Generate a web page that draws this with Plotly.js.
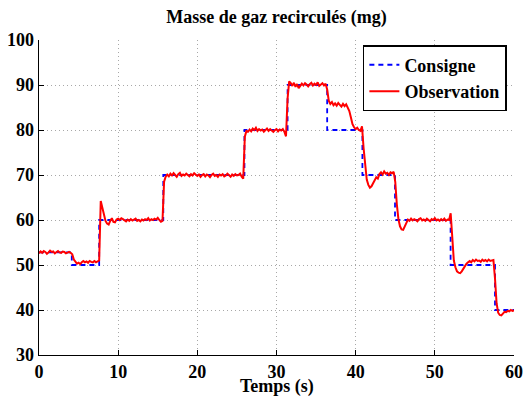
<!DOCTYPE html>
<html>
<head>
<meta charset="utf-8">
<script src="https://cdn.plot.ly/plotly-3.0.1.min.js"></script>
<style>html,body{margin:0;padding:0;background:#fff;}#chart{width:526px;height:397px;}</style>
</head>
<body>
<div id="chart"></div>
<script>
// Setpoint (Consigne): step change times (s) and levels (mg)
const consigneTime = [0, 4.14, 7.6, 15.7, 25.95, 31.4, 36.4, 40.85, 44.97, 51.99, 57.6, 60];
const consigneValue = [52.8, 50, 60, 70, 80, 90, 80, 70, 60, 50, 40, 40];

// Observation: sampled every 0.2 s from t = 0 to 60 s
const obsStep = 0.2;
const observationValue = [
  52.6, 53.0, 52.7, 53.1, 52.9,
  52.5, 52.8, 53.2, 52.9, 53.0,
  52.6, 52.9, 53.1, 52.8, 52.7,
  53.0, 52.9, 52.6, 52.8, 52.9,
  52.7, 52.4, 51.2, 50.6, 50.3,
  50.5, 50.2, 50.6, 50.9, 50.6,
  50.8, 50.5, 50.9, 50.7, 50.6,
  50.9, 50.6, 50.8, 51.0, 64.2,
  62.5, 61.0, 59.8, 59.2, 59.0,
  59.8, 60.4, 59.6, 59.5, 60.1,
  60.3, 60.0, 60.4, 60.2, 59.9,
  59.7, 60.1, 59.8, 60.2, 59.9,
  60.1, 60.3, 59.8, 60.0, 59.7,
  60.1, 59.9, 60.2, 60.0, 60.4,
  59.9, 60.2, 60.0, 60.3, 60.1,
  60.5, 60.0, 59.6, 59.8, 68.5,
  69.6, 70.1, 69.7, 70.3, 69.9,
  70.4, 70.0, 69.6, 70.2, 70.5,
  69.8, 70.1, 69.9, 70.3, 70.0,
  69.7, 70.2, 69.9, 70.4, 70.0,
  69.8, 70.1, 69.6, 70.0, 70.2,
  69.7, 70.1, 69.9, 69.5, 70.0,
  70.3, 69.8, 70.0, 69.6, 70.1,
  69.9, 70.2, 69.7, 69.9, 70.3,
  70.0, 69.6, 70.1, 69.8, 70.2,
  69.9, 70.0, 70.3, 69.6, 69.2,
  78.5, 79.8, 79.6, 80.1, 79.7,
  80.3, 80.0, 80.5, 79.8, 80.2,
  79.9, 80.1, 79.6, 80.0, 80.3,
  79.8, 80.2, 79.9, 79.6, 80.0,
  80.2, 79.7, 80.1, 79.9, 80.2,
  79.6, 78.6, 87.0, 90.8, 90.4,
  89.8, 90.5, 89.6, 90.2, 89.3,
  89.8, 90.3, 89.9, 90.4, 90.1,
  89.7, 90.2, 90.5, 89.9, 90.3,
  90.0, 90.6, 89.8, 90.2, 90.4,
  89.9, 90.3, 89.0, 86.5, 85.8,
  86.2, 85.5, 85.9, 85.4, 86.0,
  85.6, 85.2, 85.8, 85.3, 85.7,
  85.0, 84.2, 82.8, 81.3, 80.6,
  80.2, 80.5, 80.0, 79.8, 80.8,
  76.0, 71.5, 69.0, 67.8, 67.2,
  67.5, 68.3, 68.8, 69.5, 69.2,
  70.2, 70.6, 70.1, 70.8, 70.3,
  70.5, 70.0, 70.6, 70.4, 70.7,
  68.5, 63.5, 60.2, 58.6, 57.9,
  57.8, 58.6, 59.5, 60.1, 59.8,
  60.3, 59.9, 60.2, 60.0, 59.7,
  60.2, 60.4, 59.9, 60.1, 59.8,
  60.3, 60.0, 59.7, 60.2, 60.0,
  60.4, 59.9, 60.1, 59.8, 60.2,
  59.9, 60.3, 59.8, 60.1, 60.0,
  61.5, 55.5, 51.0, 49.5, 48.6,
  48.3, 48.2, 48.6, 49.2, 49.8,
  50.3, 50.6, 50.9, 50.6, 51.1,
  50.8, 51.2, 50.9, 51.0, 50.7,
  51.2, 50.9, 51.1, 50.8, 51.2,
  50.9, 51.0, 51.1, 47.0, 41.5,
  39.4, 38.9, 38.8, 39.2, 39.6,
  39.5, 39.8, 39.7, 40.0, 39.8,
  39.9
];
const observationTime = observationValue.map((_, i) => +(i * obsStep).toFixed(1));

const xTicks = [0, 10, 20, 30, 40, 50, 60];
const yTicks = [30, 40, 50, 60, 70, 80, 90, 100];

const serif = '"Liberation Serif", serif';
const font = {family: serif, color: '#000'};
const boldFont = {family: serif, color: '#000', size: 18, weight: 'bold'};

const traces = [
  {
    x: consigneTime, y: consigneValue, name: 'Consigne', type: 'scatter', mode: 'lines',
    line: {shape: 'hv', color: '#0000ff', width: 1.8, dash: '5px,4px'}
  },
  {
    x: observationTime, y: observationValue, name: 'Observation', type: 'scatter', mode: 'lines',
    line: {color: '#ff0000', width: 2}
  }
];

const axisCommon = {
  showline: true, linecolor: '#000', linewidth: 1.3,
  ticks: 'inside', ticklen: 5, tickcolor: '#000', tickwidth: 1,
  showgrid: true, gridcolor: '#a8a8a8', griddash: '1px,3px', gridwidth: 1,
  zeroline: false,
  tickfont: boldFont
};

const layout = {
  width: 526, height: 397,
  margin: {l: 39, r: 12, t: 40, b: 42},
  paper_bgcolor: '#fff', plot_bgcolor: '#fff',
  font: font,
  title: {text: 'Masse de gaz recirculés (mg)', font: boldFont, xref: 'paper', x: 0.5, xanchor: 'center', y: 0.957, yanchor: 'middle'},
  xaxis: Object.assign({}, axisCommon, {
    range: [0, 60], tickvals: xTicks, ticktext: xTicks.map(String),
    ticklabelstandoff: 0
  }),
  yaxis: Object.assign({}, axisCommon, {
    range: [30, 100], tickvals: yTicks, ticktext: yTicks.map(String),
    ticklabelstandoff: 0
  }),
  annotations: [{
    text: 'Temps (s)', xref: 'paper', yref: 'paper', x: 0.5, y: 0,
    xanchor: 'center', yanchor: 'middle', yshift: -31, showarrow: false,
    font: boldFont
  }],
  showlegend: true,
  legend: {
    x: 0.985, y: 0.984, xanchor: 'right', yanchor: 'top',
    bgcolor: '#fff', bordercolor: '#000', borderwidth: 1.5,
    font: boldFont,
    itemwidth: 30, tracegroupgap: 0
  }
};

Plotly.newPlot('chart', traces, layout, {displayModeBar: false, staticPlot: true});
</script>
</body>
</html>
